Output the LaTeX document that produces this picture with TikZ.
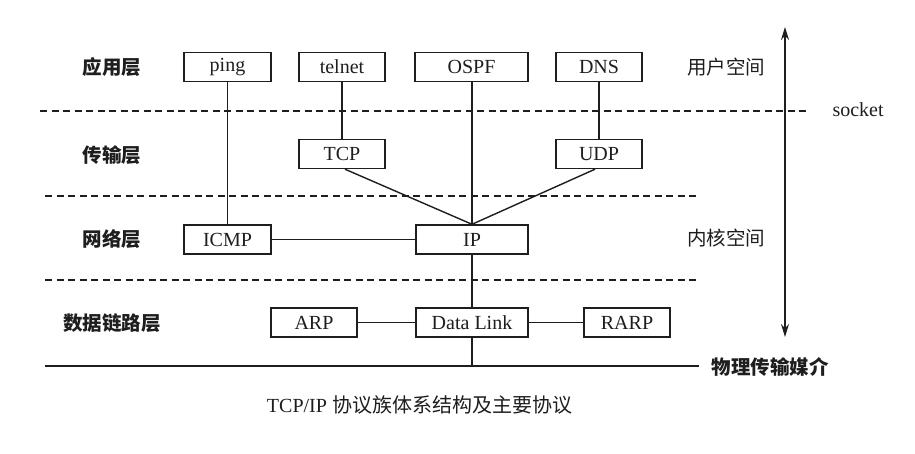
\documentclass[tikz,border=0pt]{standalone}
\usepackage{fontspec}
\setmainfont{Liberation Serif}
\newfontfamily\cjk{Noto Sans CJK SC}
\usetikzlibrary{arrows.meta}
\definecolor{ink}{HTML}{1E1E1E}
\tikzset{
  proto/.style={draw=ink, line width=1.4pt, minimum height=29pt, inner sep=0pt,
    font=\fontsize{20}{21}\selectfont, text=ink},
  wide/.style={proto, minimum width=112pt},
  narrow/.style={proto, minimum width=86pt},
  layer/.style={font=\cjk\bfseries\fontsize{19.5}{20}\selectfont, text=ink},
  space/.style={font=\cjk\fontsize{19.5}{20}\selectfont, text=ink},
  link/.style={draw=ink, line width=1.4pt},
  sep/.style={draw=ink, line width=1.3pt, dash pattern=on 7pt off 4.5pt},
}
\begin{document}
\begin{tikzpicture}[x=1pt,y=-1pt]
\useasboundingbox[fill=white] (0,0) rectangle (915,454);
% layer labels
\node[layer] (l1) at (112,67) {应用层};
\node[layer] (l2) at (112,155) {传输层};
\node[layer] (l3) at (112,239) {网络层};
\node[layer] (l4) at (112,323) {数据链路层};
% protocol boxes
\node[narrow, minimum width=87pt] (ping) at (227.5,67) {ping};
\node[narrow] (telnet) at (342,67) {telnet};
\node[proto, minimum width=113pt] (ospf) at (471.5,67) {OSPF};
\node[narrow] (dns) at (599,67) {DNS};
\node[narrow] (tcp) at (342,154) {TCP};
\node[narrow] (udp) at (599,154) {UDP};
\node[narrow, minimum width=87pt] (icmp) at (227.5,239.5) {ICMP};
\node[wide] (ip) at (472,239.5) {IP};
\node[narrow] (arp) at (314,322.5) {ARP};
\node[wide] (dl) at (472,322.5) {Data Link};
\node[narrow] (rarp) at (627,322.5) {RARP};
% separators
\coordinate (s1a) at (40,111); \coordinate (s1b) at (809,111);
\coordinate (s2a) at (45,196); \coordinate (s2b) at (698,196);
\coordinate (s3a) at (45,280); \coordinate (s3b) at (698,280);
\coordinate (pa) at (45,366); \coordinate (pb) at (699,366);
\draw[sep] (s1a) -- (s1b);
\draw[sep] (s2a) -- (s2b);
\draw[sep] (s3a) -- (s3b);
\draw[link] (pa) -- (pb);
% connectors
\draw[link] (ping.south) -- (icmp.north);
\draw[link] (telnet.south) -- (tcp.north);
\draw[link] (dns.south) -- (udp.north);
\draw[link] (ospf.south -| ip.north) -- (ip.north);
\draw[link] ([xshift=3pt]tcp.south) -- (ip.north);
\draw[link] ([xshift=-4pt]udp.south) -- (ip.north);
\draw[link] (icmp.east) -- (ip.west);
\draw[link] (ip.south) -- (dl.north);
\draw[link] (arp.east) -- (dl.west);
\draw[link] (dl.east) -- (rarp.west);
\draw[link] (dl.south) -- (dl.south |- pa);
% user / kernel space
\coordinate (atop) at (785,27);
\coordinate (abot) at (785,337);
\draw[link, line width=1.6pt, {Stealth[length=13pt,width=8pt]}-{Stealth[length=13pt,width=8pt]}] (atop) -- (abot);
\node[space] (us) at (726,67) {用户空间};
\node[space] (ks) at (726,238) {内核空间};
\node[anchor=west, font=\fontsize{20}{21}\selectfont, text=ink] (sock) at (829,110) {socket};
\node[anchor=west, layer] (phy) at (708,367) {物理传输媒介};
% caption
\node[font=\fontsize{20}{21}\selectfont, text=ink] (cap) at (419.5,405) {TCP/IP {\cjk 协议族体系结构及主要协议}};
\end{tikzpicture}
\end{document}
